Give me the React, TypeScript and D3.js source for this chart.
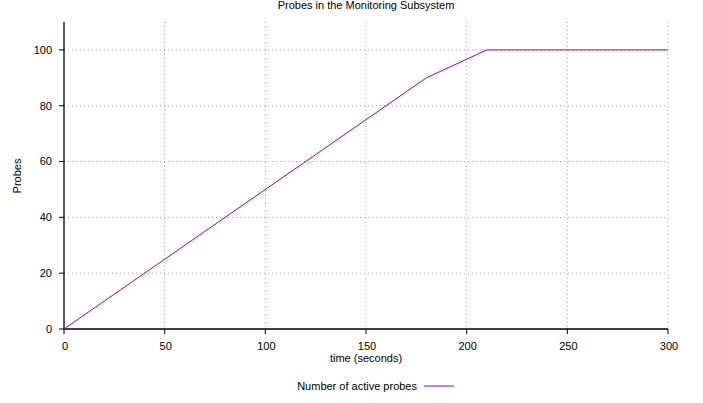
import React from "react";
import * as d3 from "d3";

const times = [0, 180, 210, 300];
const probes = [0, 90, 100, 100];
const xTicks = [0, 50, 100, 150, 200, 250, 300];
const yTicks = [0, 20, 40, 60, 80, 100];
const title = "Probes in the Monitoring Subsystem";
const xLabel = "time (seconds)";
const yLabel = "Probes";
const seriesName = "Number of active probes";

export default function App() {
  const W = 703, H = 403;
  const left = 64, right = 668, top = 22, bottom = 329;
  const x = d3.scaleLinear().domain([0, 300]).range([left, right]);
  const y = d3.scaleLinear().domain([0, 110]).range([bottom, top]);
  const line = d3.line<number>().x((_, i) => x(times[i])).y((d) => y(d));
  const font = "'Liberation Sans', Arial, Helvetica, sans-serif";
  const color = "#9400d3";
  return (
    <svg width={W} height={H} style={{ position: "absolute", left: 0, top: 0, background: "#fff" }} fontFamily={font} fontSize={11}>
      {/* grid */}
      {xTicks.filter((t) => t > 0).map((t) => (
        <line key={"gx" + t} x1={x(t)} x2={x(t)} y1={top} y2={bottom} stroke="#a0a0a0" strokeWidth={1} strokeDasharray="1,3" />
      ))}
      {yTicks.filter((t) => t > 0).map((t) => (
        <line key={"gy" + t} x1={left} x2={right} y1={y(t)} y2={y(t)} stroke="#a0a0a0" strokeWidth={1} strokeDasharray="1,3" />
      ))}
      {/* axes */}
      <line x1={left} x2={left} y1={top} y2={bottom} stroke="#000" strokeWidth={1.3} />
      <line x1={left} x2={right} y1={bottom} y2={bottom} stroke="#000" strokeWidth={1.3} />
      {yTicks.map((t) => (
        <g key={"ty" + t}>
          <line x1={left - 5} x2={left} y1={y(t)} y2={y(t)} stroke="#000" />
          <text x={left - 12} y={y(t)} dy="0.35em" textAnchor="end">{t}</text>
        </g>
      ))}
      {xTicks.map((t) => (
        <g key={"tx" + t}>
          <line x1={x(t)} x2={x(t)} y1={bottom} y2={bottom + 5} stroke="#000" />
          <text x={x(t) + 1} y={bottom + 21} textAnchor="middle">{t}</text>
        </g>
      ))}
      <path d={line(probes) || ""} fill="none" stroke={color} strokeWidth={1} />
      <text x={366} y={9} textAnchor="middle">{title}</text>
      <text x={366} y={362} textAnchor="middle">{xLabel}</text>
      <text transform={`translate(21,${176}) rotate(-90)`} textAnchor="middle">{yLabel}</text>
      <text x={417} y={390} textAnchor="end">{seriesName}</text>
      <line x1={424} x2={454} y1={386} y2={386} stroke={color} strokeWidth={1} />
    </svg>
  );
}
